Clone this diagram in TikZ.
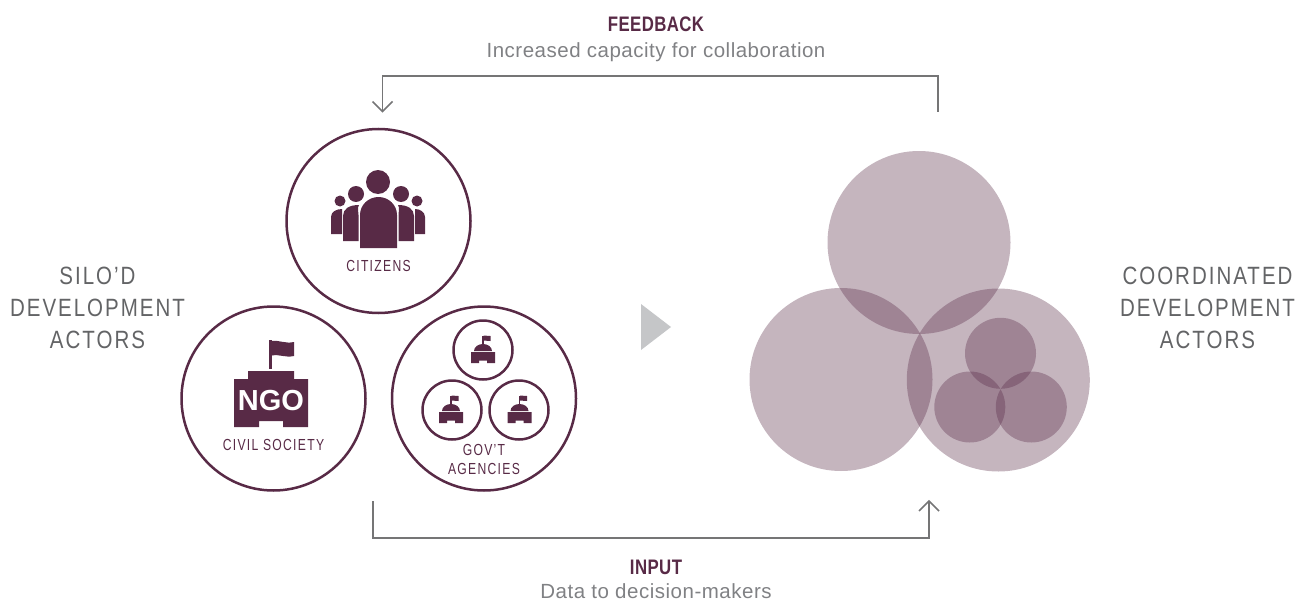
\documentclass[tikz,border=0pt]{standalone}
\usepackage{fontspec}
\usetikzlibrary{calc}
\setmainfont{Liberation Sans}
\newfontfamily\spaced[FakeStretch=0.82,LetterSpace=8]{Liberation Sans}
\newfontfamily\arrowfont[LetterSpace=2.5]{Liberation Sans}
\newfontfamily\narrowlab[FakeStretch=0.76,LetterSpace=8]{Liberation Sans}
\newfontfamily\narrowbold[FakeStretch=0.8,LetterSpace=2]{Liberation Sans Bold}
\definecolor{maroon}{HTML}{582A46}
\definecolor{greytxt}{HTML}{636466}
\definecolor{subgrey}{HTML}{808184}
\definecolor{arrowgrey}{HTML}{757576}
\definecolor{triangrey}{HTML}{C5C6C8}
\tikzset{
  ring/.style={circle,draw=maroon,line width=2.5pt,minimum size=#1,inner sep=0pt,fill=none},
  blob/.style={circle,fill=maroon,fill opacity=.35,draw=none,minimum size=#1,inner sep=0pt},
  ink/.style={fill=maroon,draw=none},
  actorlabel/.style={text=greytxt,anchor=base,font=\spaced\fontsize{25}{32}\selectfont,inner sep=0pt},
  ringlabel/.style={text=maroon,anchor=base,font=\narrowlab\fontsize{16}{18}\selectfont,inner sep=0pt},
  heading/.style={text=maroon,anchor=base,font=\narrowbold\fontsize{21}{20}\selectfont,inner sep=0pt},
  subheading/.style={text=subgrey,anchor=base,font=\arrowfont\fontsize{20.5}{20}\selectfont,inner sep=0pt},
  flow/.style={draw=arrowgrey,line width=1.5pt},
  flowtip/.style={draw=arrowgrey,line width=1.5pt,line cap=butt},
  govbuilding/.pic={
    \fill[maroon] (-12,2) -- (12,2) -- (12,13) -- (4,13) -- (4,10.5) -- (-4,10.5) -- (-4,13) -- (-12,13) -- cycle;
    \fill[maroon] (-9,1) arc[start angle=180,end angle=360,x radius=9,y radius=7] -- cycle;
    \fill[maroon] (-.7,-14.5) rectangle (.7,-5);
    \fill[maroon] (.7,-14.5) .. controls (3,-15) and (4,-13.5) .. (7.5,-14) -- (7.5,-9) .. controls (4,-8.5) and (3,-10) .. (.7,-9.5) -- cycle;
  }
}
\begin{document}
\begin{tikzpicture}[x=1pt,y=-1pt]
\useasboundingbox (0,0) rectangle (1295,599);

% rings
\node[ring=184pt] (citizens) at (378.5,221) {};
\node[ring=184pt] (civil) at (273.5,398.5) {};
\node[ring=184pt] (gov) at (484,398.5) {};
\node[ring=59pt] (govA) at (483,350) {};
\node[ring=59pt] (govB) at (452,410) {};
\node[ring=59pt] (govC) at (519,410) {};

% people icon
\fill[ink] (378,182) circle (12);
\fill[ink] (356,194) circle (8);
\fill[ink] (401,194) circle (8);
\fill[ink] (340,201) circle (5.5);
\fill[ink] (417,201) circle (5.5);
\fill[ink] (360,248) -- (360,215) arc[start angle=180,end angle=360,x radius=18.5,y radius=18] -- (397,248) -- cycle;
\fill[ink] (343,241) -- (343,216) .. controls (343,209) and (349,205) .. (359,205) .. controls (357,208) and (358.5,212) .. (358.5,215) -- (358.5,241) -- cycle;
\fill[ink] (414,241) -- (414,216) .. controls (414,209) and (408,205) .. (398,205) .. controls (400,208) and (398.5,212) .. (398.5,215) -- (398.5,241) -- cycle;
\fill[ink] (331,234) -- (331,217) .. controls (331,212) and (336,209) .. (342,209) -- (342,234) -- cycle;
\fill[ink] (425,234) -- (425,217) .. controls (425,212) and (420,209) .. (415,209) -- (415,234) -- cycle;

% NGO icon
\fill[ink] (234,379) -- (248,379) -- (248,371) -- (294,371) -- (294,379) -- (308,379) -- (308,427) -- (283,427) -- (283,421) -- (259,421) -- (259,427) -- (234,427) -- cycle;
\fill[ink] (269,340) rectangle (272,369);
\fill[ink] (272,341) .. controls (280,340) and (285,344) .. (294,342) -- (294,356) .. controls (285,358) and (280,354) .. (272,355.5) -- cycle;
\node[text=white,anchor=base,font=\bfseries\fontsize{29}{29}\selectfont,inner sep=0pt] (ngo) at (271,410) {NGO};

% government icons
\pic at (483,350) {govbuilding};
\pic at (451,410) {govbuilding};
\pic at (519.5,410) {govbuilding};

% ring labels
\node[ringlabel] (lcitizens) at (378.5,271.7) {CITIZENS};
\node[ringlabel] (lcivil) at (273.5,450.7) {CIVIL SOCIETY};
\node[ringlabel] (lgovA) at (484,455) {GOV’T};
\node[ringlabel] (lgovB) at (484,474) {AGENCIES};

% side labels
\node[actorlabel] (siloA) at (97.5,284) {SILO’D};
\node[actorlabel] (siloB) at (97.5,316) {DEVELOPMENT};
\node[actorlabel] (siloC) at (97.5,348) {ACTORS};
\node[actorlabel] (coordA) at (1207.5,284) {COORDINATED};
\node[actorlabel] (coordB) at (1207.5,316) {DEVELOPMENT};
\node[actorlabel] (coordC) at (1207.5,348) {ACTORS};

% central triangle
\fill[triangrey] (641,304) -- (671,327) -- (641,350) -- cycle;

% overlapping circles
\node[blob=183pt] (b1) at (919,242.5) {};
\node[blob=183pt] (b2) at (841,379.5) {};
\node[blob=183pt] (b3) at (998.3,380) {};
\node[blob=71pt] (s1) at (1000.5,353.3) {};
\node[blob=71pt] (s2) at (969.8,407) {};
\node[blob=71pt] (s3) at (1031.3,407) {};

% flows
\coordinate (fbStart) at (938,112);
\coordinate (fbEnd) at (382.5,111.5);
\coordinate (inStart) at (373,501);
\coordinate (inEnd) at (929,501);
\draw[flow] (fbStart) |- (382.5,76) -- (fbEnd);
\draw[flowtip] ($(fbEnd)+(-10,-10)$) -- (fbEnd) -- ($(fbEnd)+(10,-10)$);
\draw[flow] (inStart) |- (929,538) -- (inEnd);
\draw[flowtip] ($(inEnd)+(-10,10)$) -- (inEnd) -- ($(inEnd)+(10,10)$);

% flow texts
\node[heading] (fb) at (656,32) {FEEDBACK};
\node[subheading] (fbs) at (656,57.5) {Increased capacity for collaboration};
\node[heading] (inp) at (656,574) {INPUT};
\node[subheading] (inps) at (656,598) {Data to decision-makers};
\end{tikzpicture}
\end{document}
